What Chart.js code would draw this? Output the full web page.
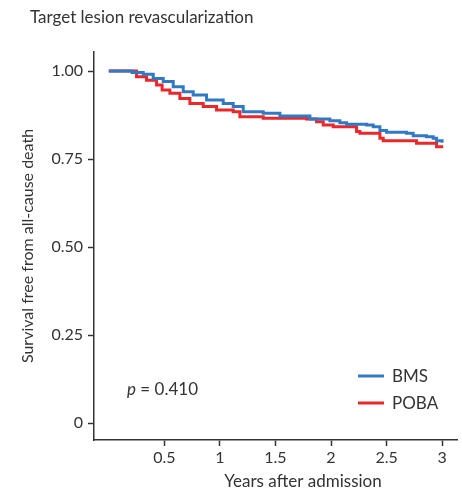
<!DOCTYPE html>
<html>
<head>
<meta charset="utf-8">
<script src="https://cdn.jsdelivr.net/npm/chart.js@4"></script>
<style>
  body { margin: 0; background: #fff; }
  #wrap { width: 462px; height: 495px; }
</style>
</head>
<body>
<div id="wrap"><canvas id="kmChart" width="462" height="495"></canvas></div>
<script>
// Kaplan-Meier steps: [years, survival]
const bmsTimes = [0, 0.21, 0.31, 0.40, 0.49, 0.58, 0.67, 0.76, 0.88, 1.03, 1.12, 1.21, 1.39, 1.54, 1.81, 1.99, 2.08, 2.14, 2.32, 2.38, 2.44, 2.50, 2.68, 2.74, 2.86, 2.92, 2.95, 3.00];
const bmsSurv  = [1, 0.996, 0.991, 0.979, 0.970, 0.955, 0.941, 0.932, 0.918, 0.908, 0.899, 0.884, 0.880, 0.872, 0.864, 0.859, 0.853, 0.849, 0.847, 0.842, 0.831, 0.826, 0.823, 0.816, 0.813, 0.809, 0.802, 0.796];
const pobaTimes = [0, 0.22, 0.25, 0.34, 0.43, 0.48, 0.55, 0.64, 0.73, 0.85, 0.97, 1.12, 1.18, 1.39, 1.78, 1.87, 1.93, 2.02, 2.23, 2.26, 2.44, 2.47, 2.77, 2.95, 3.01];
const pobaSurv  = [1, 1, 0.984, 0.974, 0.960, 0.946, 0.937, 0.922, 0.908, 0.899, 0.889, 0.884, 0.870, 0.866, 0.864, 0.856, 0.847, 0.842, 0.828, 0.823, 0.809, 0.802, 0.795, 0.785, 0.785];

const xTicks = [0.5, 1, 1.5, 2, 2.5, 3];
const xTickLabels = ["0.5", "1", "1.5", "2", "2.5", "3"];
const yTicks = [0, 0.25, 0.5, 0.75, 1];
const yTickLabels = ["0", "0.25", "0.50", "0.75", "1.00"];

const blue = "#3279c3";
const red = "#e8282b";
const ink = "#333333";
const fontFam = "Lato, 'Open Sans', sans-serif";

function toPoints(xs, ys) {
    return xs.map((x, i) => ({ x: x, y: ys[i] }));
}

// title, x title, legend and p value drawn onto the canvas
const extras = {
    id: "extras",
    afterDraw(chart) {
        const ctx = chart.ctx;
        ctx.save();
        ctx.fillStyle = ink;
        ctx.textBaseline = "alphabetic";
        ctx.font = "17px " + fontFam;
        ctx.fillText("Target lesion revascularization", 30, 23);

        // x axis title sits a bit right of the plot centre in the original
        ctx.textAlign = "center";
        ctx.fillText("Years after admission", 303, 487);
        ctx.textAlign = "left";

        // legend
        const items = [["BMS", blue, 376], ["POBA", red, 403]];
        items.forEach(it => {
            ctx.strokeStyle = it[1];
            ctx.lineWidth = 3;
            ctx.beginPath();
            ctx.moveTo(358, it[2]);
            ctx.lineTo(384, it[2]);
            ctx.stroke();
            ctx.fillStyle = ink;
            ctx.font = "17px " + fontFam;
            ctx.fillText(it[0], 392, it[2] + 6);
        });

        // p value
        ctx.font = "italic 17px " + fontFam;
        ctx.fillText("p", 127, 395);
        ctx.font = "17px " + fontFam;
        ctx.fillText(" = 0.410", 136, 395);
        ctx.restore();
    }
};

new Chart(document.getElementById("kmChart"), {
    type: "line",
    data: {
        datasets: [
            { label: "BMS", data: toPoints(bmsTimes, bmsSurv), borderColor: blue, borderWidth: 3, stepped: true, pointRadius: 0, fill: false },
            { label: "POBA", data: toPoints(pobaTimes, pobaSurv), borderColor: red, borderWidth: 3, stepped: true, pointRadius: 0, fill: false }
        ]
    },
    options: {
        responsive: false,
        animation: false,
        layout: { padding: { top: 52, right: 5, left: 0, bottom: 0 } },
        plugins: { legend: { display: false }, tooltip: { enabled: false } },
        scales: {
            x: {
                type: "linear",
                min: -0.133,
                max: 3.134,
                afterFit: s => { s.height = 55; },
                afterBuildTicks: s => { s.ticks = xTicks.map(v => ({ value: v })); },
                ticks: {
                    color: ink,
                    font: { family: fontFam, size: 16 },
                    padding: 2,
                    maxRotation: 0,
                    callback: (v) => xTickLabels[xTicks.indexOf(v)]
                },
                grid: { drawOnChartArea: false, tickLength: 6, color: ink, tickWidth: 1.5 },
                border: { color: ink, width: 1.5 }
            },
            y: {
                type: "linear",
                min: -0.048,
                max: 1.054,
                afterFit: s => { s.width = 94; },
                afterBuildTicks: s => { s.ticks = yTicks.map(v => ({ value: v })); },
                ticks: {
                    color: ink,
                    font: { family: fontFam, size: 16 },
                    padding: 5,
                    callback: (v) => yTickLabels[yTicks.indexOf(v)]
                },
                grid: { drawOnChartArea: false, tickLength: 6, color: ink, tickWidth: 1.5 },
                border: { color: ink, width: 1.5 },
                title: {
                    display: true,
                    text: "Survival free from all-cause death",
                    color: ink,
                    font: { family: fontFam, size: 16 },
                    padding: { top: 18, bottom: 0 }
                }
            }
        }
    },
    plugins: [extras]
});
</script>
</body>
</html>
